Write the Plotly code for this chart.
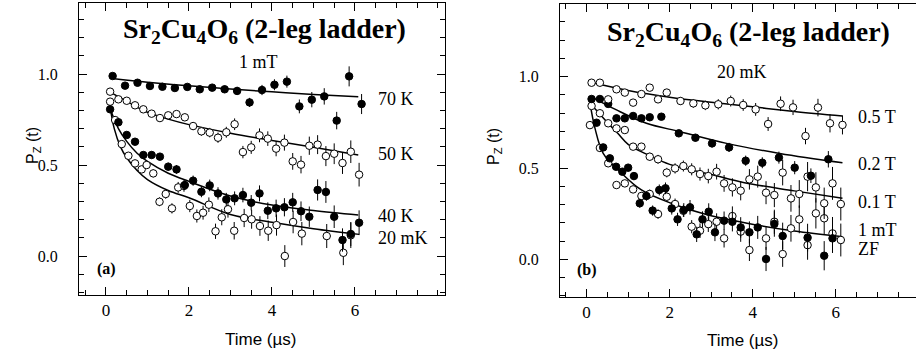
import plotly.graph_objects as go

W, H = 916, 358

# ---------------- Panel (a): 1 mT, various temperatures ----------------
t70 = [0.16,0.46,0.76,1.06,1.36,1.66,1.96,2.26,2.56,2.86,3.16,3.46,3.76,4.06,4.36,4.66,4.96,5.26,5.56,5.86,6.16]
p70 = [0.989,0.936,0.952,0.934,0.930,0.923,0.929,0.916,0.925,0.916,0.907,0.844,0.912,0.941,0.958,0.822,0.859,0.877,0.744,0.987,0.835]
e70 = [0.01,0.01,0.01,0.012,0.012,0.014,0.015,0.016,0.018,0.02,0.022,0.025,0.028,0.03,0.033,0.038,0.042,0.045,0.048,0.055,0.055]

t50 = [0.1,0.3,0.5,0.7,0.9,1.1,1.3,1.5,1.7,1.9,2.1,2.3,2.5,2.7,2.9,3.1,3.3,3.5,3.7,3.9,4.1,4.3,4.5,4.7,4.9,5.1,5.3,5.5,5.7,5.9,6.1]
p50 = [0.903,0.861,0.853,0.828,0.806,0.782,0.758,0.773,0.780,0.762,0.714,0.685,0.678,0.650,0.680,0.724,0.571,0.597,0.663,0.645,0.590,0.623,0.520,0.502,0.606,0.612,0.549,0.562,0.511,0.573,0.447]
e50 = [0.01,0.01,0.01,0.012,0.012,0.014,0.015,0.016,0.018,0.02,0.022,0.024,0.026,0.028,0.03,0.032,0.034,0.036,0.038,0.04,0.042,0.044,0.046,0.048,0.05,0.052,0.055,0.057,0.06,0.062,0.065]

t40 = [0.1,0.3,0.5,0.7,0.9,1.1,1.3,1.5,1.7,1.9,2.1,2.3,2.5,2.7,2.9,3.1,3.3,3.5,3.7,3.9,4.1,4.3,4.5,4.7,4.9,5.1,5.3,5.5,5.7,5.9,6.1]
p40 = [0.806,0.735,0.665,0.628,0.555,0.555,0.546,0.491,0.476,0.390,0.414,0.353,0.388,0.344,0.311,0.317,0.335,0.293,0.344,0.249,0.262,0.268,0.295,0.246,0.216,0.363,0.352,0.216,0.088,0.121,0.183]
e40 = [0.01,0.01,0.012,0.014,0.016,0.018,0.02,0.022,0.024,0.026,0.028,0.03,0.032,0.034,0.036,0.038,0.04,0.042,0.044,0.046,0.048,0.05,0.052,0.054,0.056,0.058,0.06,0.062,0.064,0.066,0.068]

t20 = [0.1,0.22,0.38,0.54,0.70,0.86,0.98,1.14,1.29,1.44,1.59,1.74,1.88,2.02,2.19,2.34,2.48,2.64,2.79,2.94,3.09,3.33,3.51,3.71,3.91,4.11,4.31,4.51,4.72,5.32,5.72,5.90]
p20 = [0.848,0.747,0.615,0.551,0.509,0.476,0.500,0.454,0.298,0.341,0.262,0.377,0.385,0.275,0.220,0.238,0.282,0.136,0.213,0.257,0.139,0.209,0.202,0.165,0.139,0.170,0.000,0.187,0.123,0.110,0.018,0.114]
e20 = [0.01,0.01,0.012,0.014,0.016,0.018,0.02,0.022,0.024,0.026,0.028,0.03,0.032,0.034,0.036,0.038,0.04,0.042,0.044,0.046,0.048,0.05,0.052,0.054,0.056,0.058,0.06,0.062,0.064,0.066,0.068,0.07]

# fit curves
f70_t = [0.15,1.0,2.0,3.0,4.0,5.0,6.08]
f70_p = [0.975,0.955,0.935,0.917,0.902,0.888,0.875]
f50_t = [0.1,0.5,1.0,1.5,2.0,3.0,4.0,5.0,6.08]
f50_p = [0.90,0.85,0.79,0.752,0.722,0.675,0.635,0.597,0.555]
f40_t = [0.1,0.3,0.5,0.75,1.0,1.5,2.0,3.0,4.0,5.0,6.08]
f40_p = [0.81,0.70,0.63,0.565,0.52,0.455,0.41,0.33,0.28,0.25,0.225]
f20_t = [0.1,0.2,0.35,0.5,0.75,1.0,1.5,2.0,3.0,4.0,5.0,6.1]
f20_p = [0.82,0.70,0.60,0.54,0.47,0.42,0.36,0.32,0.228,0.185,0.15,0.119]

# ---------------- Panel (b): 20 mK, various fields ----------------
t05 = [0.12,0.32,0.52,0.72,0.92,1.12,1.32,1.52,1.72,1.93,2.26,2.57,2.86,3.17,3.47,3.77,4.07,4.37,4.67,4.97,5.27,5.57,5.86,6.16]
p05 = [0.967,0.967,0.876,0.931,0.913,0.858,0.905,0.940,0.876,0.913,0.867,0.854,0.843,0.849,0.867,0.845,0.821,0.741,0.852,0.832,0.675,0.831,0.745,0.736]
e05 = [0.01,0.01,0.01,0.012,0.012,0.014,0.015,0.016,0.018,0.02,0.022,0.024,0.026,0.028,0.03,0.032,0.035,0.038,0.04,0.042,0.045,0.048,0.05,0.052]

t02 = [0.12,0.32,0.52,0.72,0.92,1.12,1.32,1.52,1.80,2.22,2.62,3.02,3.43,3.83,4.23,4.63,5.01,5.40,5.82]
p02 = [0.878,0.878,0.851,0.772,0.772,0.785,0.772,0.778,0.781,0.690,0.666,0.635,0.613,0.540,0.529,0.557,0.502,0.458,0.548]
e02 = [0.01,0.01,0.01,0.012,0.012,0.013,0.014,0.015,0.016,0.018,0.02,0.022,0.025,0.028,0.03,0.033,0.036,0.04,0.045]

t01 = [0.12,0.32,0.52,0.72,0.92,1.12,1.32,1.52,1.72,1.93,2.13,2.33,2.53,2.73,2.93,3.13,3.31,3.51,3.71,3.92,4.12,4.32,4.52,4.72,4.92,5.12,5.32,5.52,5.72,5.92,6.12]
p01 = [0.840,0.800,0.745,0.717,0.708,0.617,0.617,0.562,0.548,0.475,0.498,0.511,0.493,0.467,0.456,0.480,0.416,0.394,0.376,0.438,0.453,0.365,0.352,0.475,0.334,0.358,0.453,0.394,0.307,0.416,0.303]
e01 = [0.01,0.01,0.012,0.014,0.016,0.018,0.02,0.022,0.024,0.026,0.028,0.03,0.033,0.036,0.04,0.043,0.046,0.05,0.053,0.056,0.06,0.063,0.066,0.07,0.073,0.076,0.08,0.083,0.086,0.09,0.09]

t1m = [0.08,0.32,0.52,0.72,0.92,1.12,1.32,1.52,1.72,1.93,2.13,2.33,2.53,2.73,2.93,3.13,3.31,3.51,3.71,3.92,4.32,4.52,4.72,4.92,5.12,5.32,5.52,5.72,5.92,6.12]
p1m = [0.735,0.610,0.526,0.407,0.416,0.383,0.347,0.358,0.248,0.343,0.303,0.266,0.179,0.157,0.193,0.206,0.115,0.237,0.152,0.051,0.115,0.206,0.029,0.170,0.219,0.078,0.252,0.225,0.142,0.106]
e1m = [0.01,0.012,0.014,0.016,0.018,0.02,0.022,0.024,0.026,0.028,0.03,0.033,0.036,0.04,0.043,0.046,0.05,0.053,0.056,0.06,0.063,0.066,0.07,0.073,0.076,0.08,0.083,0.086,0.09,0.09]

tzf = [0.24,0.40,0.56,0.71,0.86,1.00,1.14,1.28,1.44,1.59,1.75,1.90,2.05,2.19,2.34,2.49,2.65,2.79,2.94,3.09,3.31,3.51,3.71,3.92,4.12,4.32,4.52,4.72,5.32,5.72,5.92]
pzf = [0.748,0.613,0.553,0.507,0.480,0.502,0.456,0.307,0.347,0.267,0.380,0.389,0.279,0.219,0.270,0.285,0.137,0.219,0.261,0.148,0.212,0.206,0.175,0.148,0.175,0.002,0.194,0.128,0.119,0.020,0.115]
ezf = [0.01,0.012,0.014,0.016,0.018,0.02,0.022,0.024,0.026,0.028,0.03,0.032,0.034,0.036,0.038,0.04,0.042,0.044,0.046,0.048,0.05,0.053,0.056,0.06,0.063,0.066,0.07,0.073,0.076,0.08,0.08]

g05_t = [0.1,1.0,2.0,3.0,4.0,5.0,6.16]
g05_p = [0.97,0.925,0.888,0.86,0.835,0.81,0.785]
g02_t = [0.12,0.72,1.44,2.25,3.37,4.65,6.16]
g02_p = [0.89,0.818,0.745,0.699,0.635,0.580,0.529]
g01_t = [0.1,0.3,0.5,0.75,1.0,1.5,2.0,3.0,3.8,5.0,6.16]
g01_p = [0.85,0.80,0.75,0.69,0.63,0.57,0.52,0.465,0.42,0.375,0.334]
g1m_t = [0.08,0.2,0.4,0.76,1.32,2.12,2.93,4.05,5.0,6.16]
g1m_p = [0.86,0.72,0.58,0.49,0.38,0.30,0.243,0.19,0.155,0.124]

SERIF = "Times New Roman, Liberation Serif, Times, serif"
SANS = "Arial, Liberation Sans, Helvetica, sans-serif"

fig = go.Figure()

def fit(x, y, ax):
    fig.add_trace(go.Scatter(x=x, y=y, mode="lines", line=dict(color="black", width=1.5, shape="spline"),
                             xaxis=ax[0], yaxis=ax[1], showlegend=False, hoverinfo="skip"))

def data(x, y, e, filled, ax):
    fig.add_trace(go.Scatter(
        x=x, y=y, mode="markers",
        marker=dict(symbol="circle", size=7.5, color="black" if filled else "white",
                    line=dict(color="black", width=1)),
        error_y=dict(type="data", array=e, visible=True, thickness=1, width=0, color="black"),
        xaxis=ax[0], yaxis=ax[1], showlegend=False))

A = ("x", "y")
B = ("x2", "y2")
for ft, fp in [(f70_t, f70_p), (f50_t, f50_p), (f40_t, f40_p), (f20_t, f20_p)]:
    fit(ft, fp, A)
data(t20, p20, e20, False, A)
data(t40, p40, e40, True, A)
data(t50, p50, e50, False, A)
data(t70, p70, e70, True, A)

for ft, fp in [(g05_t, g05_p), (g02_t, g02_p), (g01_t, g01_p), (g1m_t, g1m_p)]:
    fit(ft, fp, B)
data(t1m, p1m, e1m, False, B)
data(tzf, pzf, ezf, True, B)
data(t01, p01, e01, False, B)
data(t02, p02, e02, True, B)
data(t05, p05, e05, False, B)

def px(x):
    return x / W

def py(y):
    return 1 - y / H

xminor = [v * 0.5 for v in range(-1, 17)]
yminor = [round(v * 0.1, 1) for v in range(-2, 14)]

def xax(domain, rng, mirror):
    return dict(domain=domain, range=rng, showline=True, linecolor="black", linewidth=1,
                mirror=mirror, ticks="inside", ticklen=8, tickwidth=1, tickcolor="black",
                tickvals=[0, 2, 4, 6], ticktext=["0", "2", "4", "6"],
                tickfont=dict(family=SERIF, size=17, color="black"), ticklabelstandoff=0,
                minor=dict(tickvals=xminor, ticks="inside", ticklen=5, tickcolor="black", tickwidth=1),
                showgrid=False, zeroline=False)

def yax(domain, rng, anchor, mirror):
    return dict(domain=domain, range=rng, anchor=anchor, showline=True, linecolor="black", linewidth=1,
                mirror=mirror, ticks="inside", ticklen=8, tickwidth=1, tickcolor="black",
                tickvals=[0, 0.5, 1.0], ticktext=["0.0", "0.5", "1.0"],
                tickfont=dict(family=SERIF, size=16, color="black"), ticklabelstandoff=17,
                minor=dict(tickvals=yminor, ticks="inside", ticklen=5, tickcolor="black", tickwidth=1),
                showgrid=False, zeroline=False)

fig.update_layout(
    width=W, height=H, margin=dict(l=0, r=0, t=0, b=0),
    paper_bgcolor="white", plot_bgcolor="white",
    font=dict(family=SERIF, color="black"),
    xaxis=dict(xax([px(79), px(445)], [-0.65, 8.17], "ticks"), anchor="y"),
    yaxis=yax([py(295), py(3)], [-0.214, 1.39], "x", "ticks"),
    xaxis2=dict(xax([px(560), 1.0], [-0.64, 7.93], "ticks"), anchor="y2"),
    yaxis2=yax([py(297), py(4)], [-0.206, 1.398], "x2", False),
)

ann = []
def text(s, x, y, size, family=SERIF, xanchor="left", angle=0):
    ann.append(dict(text=s, x=px(x), y=py(y), xref="paper", yref="paper", showarrow=False,
                    xanchor=xanchor, yanchor="middle", textangle=angle,
                    font=dict(family=family, size=size, color="black")))

title = "<b>Sr<sub>2</sub>Cu<sub>4</sub>O<sub>6</sub> (2-leg ladder)</b>"
text(title, 264, 31, 28, xanchor="center")
text(title, 748, 34, 28, xanchor="center")
text("1 mT", 258, 62, 18, xanchor="center")
text("20 mK", 742, 72, 18, xanchor="center")
for s, y in [("70 K", 99), ("50 K", 154), ("40 K", 216), ("20 mK", 238)]:
    text(s, 376, y, 18)
for s, y in [("0.5 T", 117), ("0.2 T", 164), ("0.1 T", 202), ("1 mT", 230), ("ZF", 249)]:
    text(s, 856, y, 18)
text("<b>(a)</b>", 95, 269, 16)
text("<b>(b)</b>", 575, 270, 16)
text("P<sub>Z</sub> (t)", 33, 146, 16, family=SANS, xanchor="center", angle=-90)
text("P<sub>Z</sub> (t)", 494, 147, 16, family=SANS, xanchor="center", angle=-90)
text("Time (µs)", 261, 339, 17, family=SANS, xanchor="center")
text("Time (µs)", 743, 340, 17, family=SANS, xanchor="center")
fig.update_layout(annotations=ann)

fig.write_html("out.html")
